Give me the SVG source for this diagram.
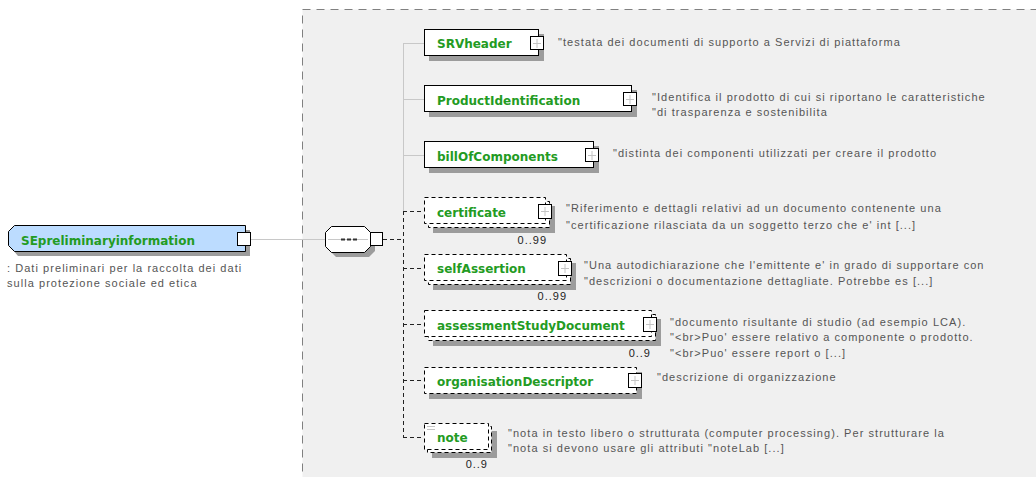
<svg xmlns="http://www.w3.org/2000/svg" width="1036" height="477" viewBox="0 0 1036 477">
<style>
.lbl{font-family:"DejaVu Sans",Verdana,sans-serif;font-weight:bold;font-size:12px;fill:#239b23}
.desc{font-family:"Liberation Sans",Arial,sans-serif;font-size:11px;fill:#555;letter-spacing:1.05px}
.occ{font-family:"Liberation Sans",Arial,sans-serif;font-size:11px;fill:#222;letter-spacing:1px}
.box{fill:#fff;stroke:#000;stroke-width:1}
.dbox{fill:#fff;stroke:#000;stroke-width:1;stroke-dasharray:4 3}
.shadow{fill:#9c9c9c}
.sq{fill:#fff;stroke:#000;stroke-width:1}
.plus{stroke:#c4c4c4;stroke-width:1}
.solid{stroke:#c8c8c8;stroke-width:1;fill:none}
.dash{stroke:#222;stroke-width:1;stroke-dasharray:4 3;fill:none}
</style>
<rect x="0" y="0" width="1036" height="477" fill="#fff"/>
<rect x="302.5" y="9.5" width="760" height="500" fill="#f0f0f0" stroke="#808080" stroke-width="1" stroke-dasharray="8 6"/>

<g id="connectors">
  <line class="solid" x1="251" y1="239.5" x2="325" y2="239.5"/>
  <line class="dash" x1="383" y1="239.5" x2="403" y2="239.5"/>
  <line class="solid" x1="403.5" y1="43" x2="403.5" y2="211"/>
  <line class="dash" x1="403.5" y1="211" x2="403.5" y2="437"/>
  <line class="solid" x1="403" y1="43.5" x2="424" y2="43.5"/>
  <line class="solid" x1="403" y1="99.5" x2="424" y2="99.5"/>
  <line class="solid" x1="403" y1="155.5" x2="424" y2="155.5"/>
  <line class="dash" x1="403" y1="211.5" x2="424" y2="211.5"/>
  <line class="dash" x1="403" y1="268.5" x2="424" y2="268.5"/>
  <line class="dash" x1="403" y1="324.5" x2="424" y2="324.5"/>
  <line class="dash" x1="403" y1="380.5" x2="424" y2="380.5"/>
  <line class="dash" x1="403" y1="437.5" x2="424" y2="437.5"/>
</g>

<g id="root">
  <path class="shadow" d="M18,230 H250 V256 H18 L13,250 V236 Z"/>
  <path d="M14.5,225.5 H245.5 V251.5 H14.5 L8.5,245.5 V231.5 Z" fill="#bcdcff" stroke="#000"/>
  <rect class="sq" x="237.5" y="232.5" width="13" height="13"/>
  <text class="lbl" x="21" y="245">SEpreliminaryinformation</text>
  <text class="desc" x="7" y="272">: Dati preliminari per la raccolta dei dati</text>
  <text class="desc" x="7" y="287">sulla protezione sociale ed etica</text>
</g>

<g id="sequence">
  <path class="shadow" d="M336,231 H369 L375,237 V251 L369,257 H336 L330,251 V237 Z"/>
  <path d="M331.5,226.5 H364.5 L370.5,232.5 V246.5 L364.5,252.5 H331.5 L325.5,246.5 V232.5 Z" fill="#fff" stroke="#000"/>
  <line x1="328" y1="239.5" x2="368" y2="239.5" stroke="#c8c8c8"/>
  <rect x="341" y="238.5" width="4" height="2" fill="#333"/>
  <rect x="347" y="238.5" width="4" height="2" fill="#333"/>
  <rect x="353" y="238.5" width="4" height="2" fill="#333"/>
  <rect class="sq" x="370.5" y="232.5" width="12" height="13"/>
</g>

<g id="SRVheader">
  <rect class="shadow" x="429" y="34" width="115" height="27"/>
  <rect class="box" x="424.5" y="29.5" width="114" height="26"/>
  <rect class="sq" x="530.5" y="36.5" width="13" height="13"/>
  <path class="plus" d="M533,43.5 H541 M537,39 V48"/>
  <text class="lbl" x="437" y="48">SRVheader</text>
  <text class="desc" x="558" y="46">"testata dei documenti di supporto a Servizi di piattaforma</text>
</g>

<g id="ProductIdentification">
  <rect class="shadow" x="429" y="90" width="208" height="27"/>
  <rect class="box" x="424.5" y="85.5" width="207" height="26"/>
  <rect class="sq" x="623.5" y="92.5" width="13" height="13"/>
  <path class="plus" d="M626,99.5 H634 M630,95 V104"/>
  <text class="lbl" x="437" y="105">ProductIdentification</text>
  <text class="desc" x="652" y="101">"Identifica il prodotto di cui si riportano le caratteristiche</text>
  <text class="desc" x="652" y="116">"di trasparenza e sostenibilita</text>
</g>

<g id="billOfComponents">
  <rect class="shadow" x="429" y="146" width="170" height="27"/>
  <rect class="box" x="424.5" y="141.5" width="169" height="26"/>
  <rect class="sq" x="585.5" y="148.5" width="13" height="13"/>
  <path class="plus" d="M588,155.5 H596 M592,151 V160"/>
  <text class="lbl" x="437" y="161">billOfComponents</text>
  <text class="desc" x="613" y="157">"distinta dei componenti utilizzati per creare il prodotto</text>
</g>

<g id="certificate">
  <rect class="shadow" x="433" y="206" width="122" height="27"/>
  <rect class="dbox" x="428.5" y="201.5" width="121" height="26"/>
  <rect class="dbox" x="424.5" y="197.5" width="121" height="26"/>
  <rect class="sq" x="538.5" y="204.5" width="13" height="14"/>
  <path class="plus" d="M541,211.5 H549 M545,207 V216"/>
  <text class="lbl" x="437" y="217">certificate</text>
  <text class="occ" x="547" y="244" text-anchor="end">0..99</text>
  <text class="desc" x="566" y="212">"Riferimento e dettagli relativi ad un documento contenente una</text>
  <text class="desc" x="566" y="229">"certificazione rilasciata da un soggetto terzo che e' int [...]</text>
</g>

<g id="selfAssertion">
  <rect class="shadow" x="433" y="263" width="143" height="27"/>
  <rect class="dbox" x="428.5" y="258.5" width="142" height="26"/>
  <rect class="dbox" x="424.5" y="254.5" width="142" height="26"/>
  <rect class="sq" x="558.5" y="261.5" width="13" height="14"/>
  <path class="plus" d="M561,268.5 H569 M565,264 V273"/>
  <text class="lbl" x="437" y="273">selfAssertion</text>
  <text class="occ" x="567" y="300" text-anchor="end">0..99</text>
  <text class="desc" x="584" y="269">"Una autodichiarazione che l'emittente e' in grado di supportare con</text>
  <text class="desc" x="584" y="285">"descrizioni o documentazione dettagliate. Potrebbe es [...]</text>
</g>

<g id="assessmentStudyDocument">
  <rect class="shadow" x="433" y="319" width="228" height="27"/>
  <rect class="dbox" x="428.5" y="314.5" width="227" height="26"/>
  <rect class="dbox" x="424.5" y="310.5" width="227" height="26"/>
  <rect class="sq" x="643.5" y="317.5" width="13" height="14"/>
  <path class="plus" d="M646,324.5 H654 M650,320 V329"/>
  <text class="lbl" x="437" y="330">assessmentStudyDocument</text>
  <text class="occ" x="651" y="357" text-anchor="end">0..9</text>
  <text class="desc" x="670" y="326">"documento risultante di studio (ad esempio LCA).</text>
  <text class="desc" x="670" y="341">"&lt;br&gt;Puo' essere relativo a componente o prodotto.</text>
  <text class="desc" x="670" y="357">"&lt;br&gt;Puo' essere report o [...]</text>
</g>

<g id="organisationDescriptor">
  <rect class="shadow" x="429" y="372" width="213" height="27"/>
  <rect class="dbox" x="424.5" y="367.5" width="212" height="26"/>
  <rect class="sq" x="628.5" y="373.5" width="13" height="14"/>
  <path class="plus" d="M631,380.5 H639 M635,376 V385"/>
  <text class="lbl" x="437" y="386">organisationDescriptor</text>
  <text class="desc" x="657" y="381">"descrizione di organizzazione</text>
</g>

<g id="note">
  <rect class="shadow" x="432" y="431" width="65" height="27"/>
  <rect class="dbox" x="427.5" y="426.5" width="64" height="26"/>
  <rect class="dbox" x="424.5" y="423.5" width="64" height="26"/>
  <path d="M427,426.5 H435 M427,429.5 H435" stroke="#c4c4c4"/>
  <text class="lbl" x="437" y="442">note</text>
  <text class="occ" x="488" y="468" text-anchor="end">0..9</text>
  <text class="desc" x="508" y="437">"nota in testo libero o strutturata (computer processing). Per strutturare la</text>
  <text class="desc" x="508" y="452">"nota si devono usare gli attributi "noteLab [...]</text>
</g>
</svg>
